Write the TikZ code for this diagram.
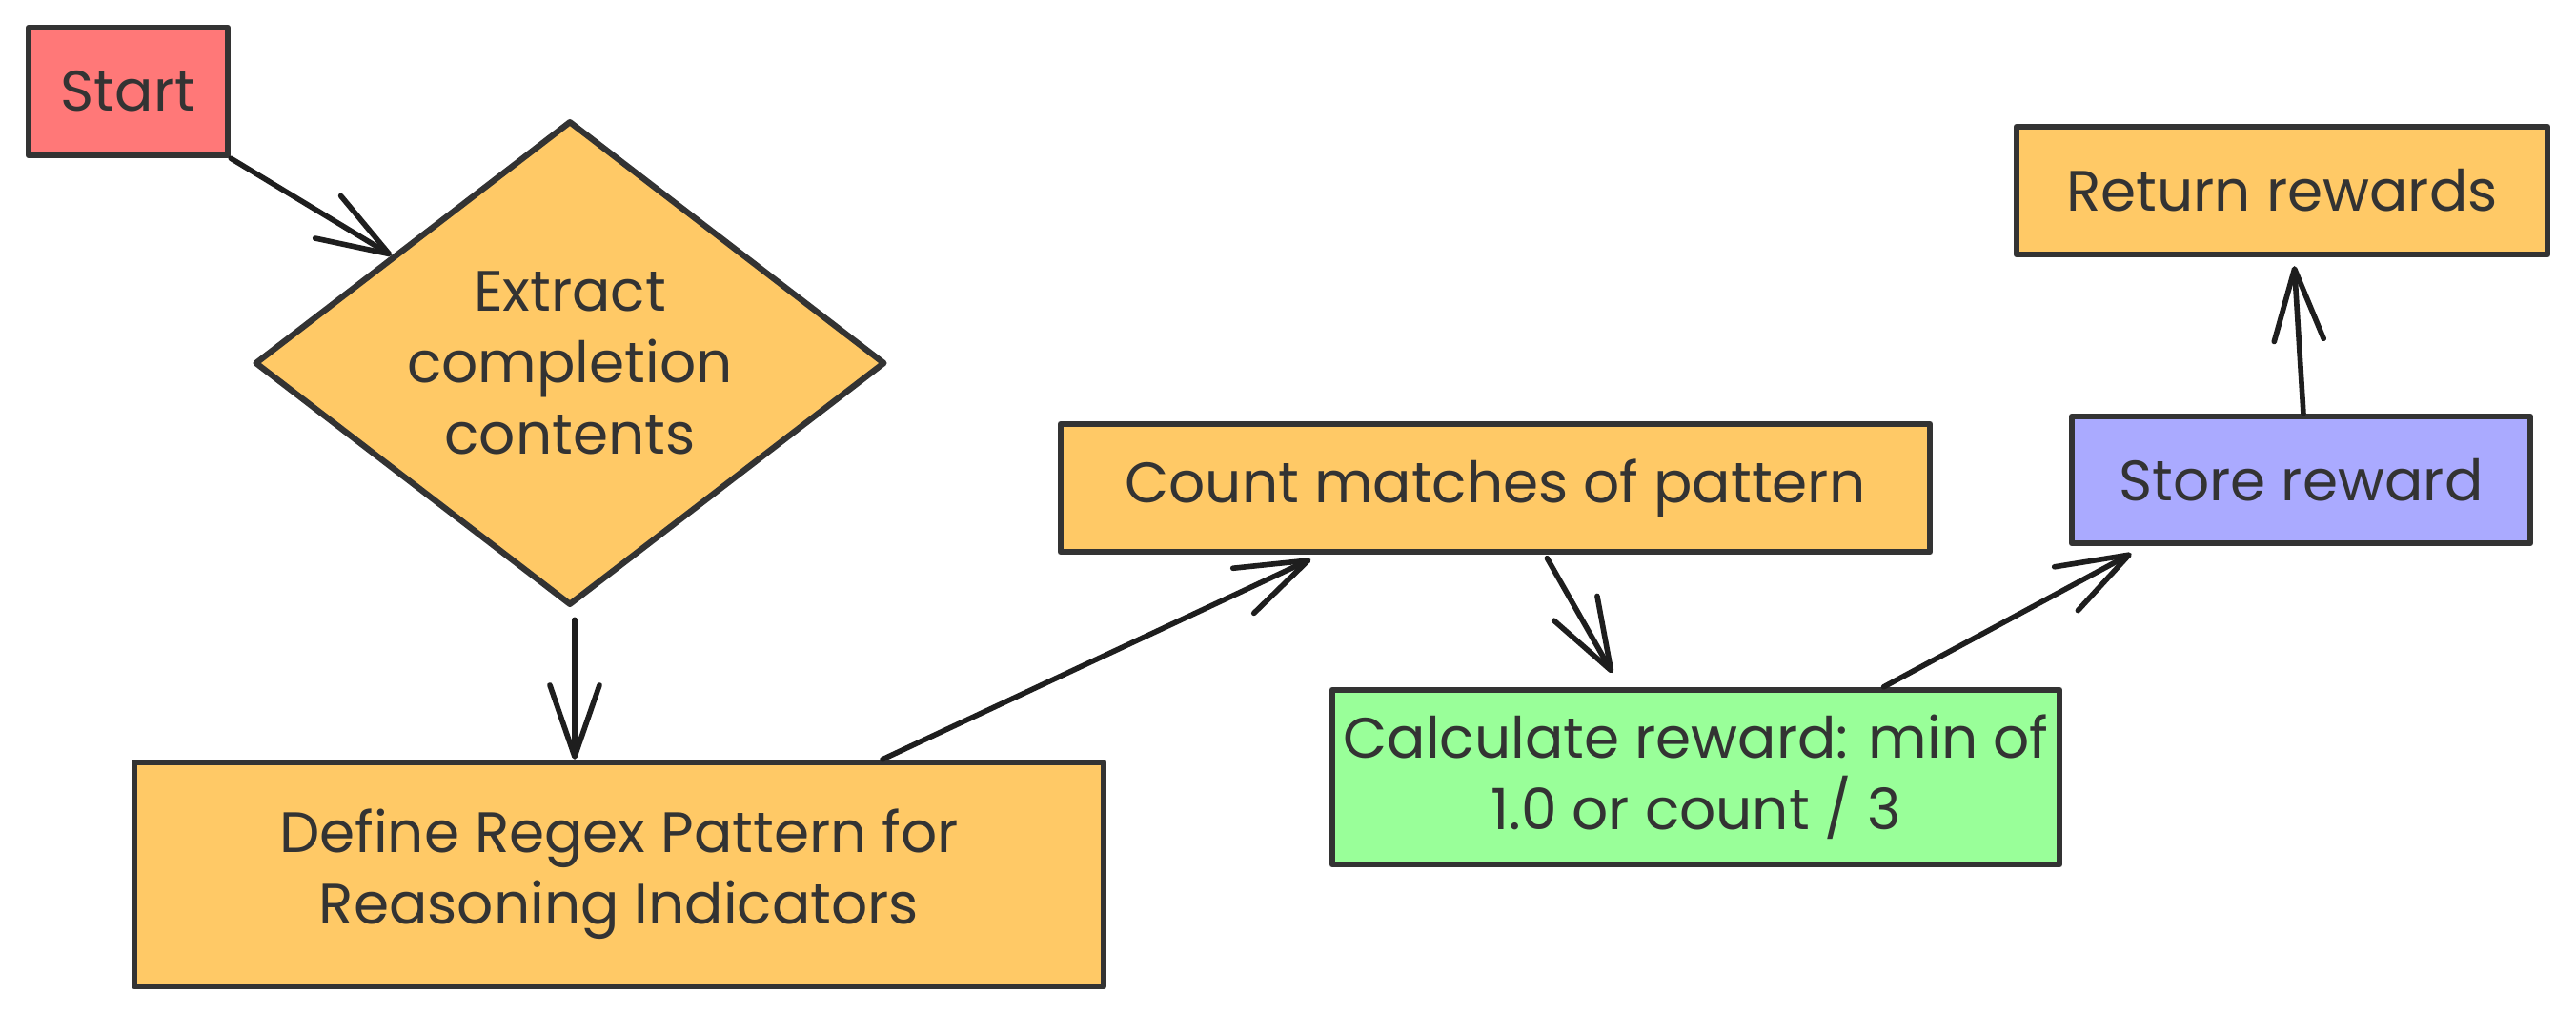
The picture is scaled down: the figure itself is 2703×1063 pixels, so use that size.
\documentclass[tikz,border=0pt]{standalone}
\usepackage{fontspec}
\setmainfont{Poppins}
\usetikzlibrary{shapes.geometric,arrows.meta,calc}
\definecolor{strk}{HTML}{333333}
\definecolor{cred}{HTML}{FF7878}
\definecolor{cyel}{HTML}{FFC966}
\definecolor{cgrn}{HTML}{99FF99}
\definecolor{cpur}{HTML}{AAAAFF}
\definecolor{arrc}{HTML}{1E1E1E}
\begin{document}
\begin{tikzpicture}[x=0.01cm,y=-0.01cm,
  box/.style={draw=strk, line width=1.8pt, rectangle, inner sep=0pt, align=center,
    text=strk, font=\fontsize{17}{21.3}\selectfont, line join=round},
  flow/.style={draw=arrc, line width=1.6pt, line cap=round,
    -{Straight Barb[length=0.75cm,width=0.52cm,line cap=round,line join=round]}},
]
\useasboundingbox (0,0) rectangle (2703,1063);
\node[box, fill=cred, minimum width=2.09cm, minimum height=1.34cm] (start) at (134.5,96) {Start};
\node[box, diamond, aspect=1.3, fill=cyel, minimum width=6.61cm, minimum height=5.08cm] (dia) at (598,381) {Extract\\completion\\contents};
\node[box, fill=cyel, minimum width=10.17cm, minimum height=2.35cm] (def) at (649.5,917.5) {Define Regex Pattern for\\Reasoning Indicators};
\node[box, fill=cyel, minimum width=9.12cm, minimum height=1.34cm] (cnt) at (1569,512) {Count matches of pattern};
\node[box, fill=cgrn, minimum width=7.63cm, minimum height=1.83cm] (calc) at (1779.5,815.5) {Calculate reward: min of\\1.0 or count / 3};
\node[box, fill=cpur, minimum width=4.81cm, minimum height=1.33cm] (store) at (2414.5,503.5) {Store reward};
\node[box, fill=cyel, minimum width=5.57cm, minimum height=1.34cm] (ret) at (2394.5,200) {Return rewards};

\draw[flow] (start.south east) -- (dia);
\draw[flow, shorten <=0.12cm] ([xshift=0.05cm]dia.south) -- ([xshift=0.05cm]dia.south |- def.north);
\draw[flow, shorten >=0.11cm] ($(def.north west)!0.77!(def.north east)$) -- ($(cnt.south west)!0.30!(cnt.south east)$);
\draw[flow, shorten <=0.04cm, shorten >=0.17cm] ($(cnt.south west)!0.557!(cnt.south east)$) -- ($(calc.north west)!0.397!(calc.north east)$);
\draw[flow, shorten >=0.16cm] ($(calc.north west)!0.756!(calc.north east)$) -- ($(store.south west)!0.164!(store.south east)$);
\draw[flow, shorten >=0.09cm] ($(store.north west)!0.505!(store.north east)$) -- ($(ret.south west)!0.522!(ret.south east)$);
\end{tikzpicture}
\end{document}
